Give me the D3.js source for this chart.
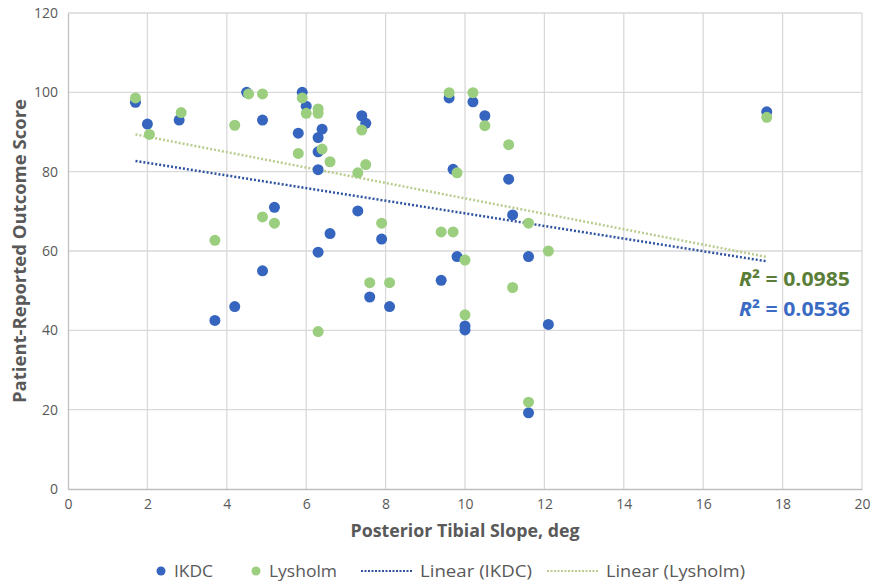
<!DOCTYPE html>
<html>
<head>
<meta charset="utf-8">
<script src="https://cdn.jsdelivr.net/npm/d3@7"></script>
<style>
  body { margin: 0; background: #fff; }
  text { font-family: "Liberation Sans Narrow", "Open Sans", sans-serif; }
</style>
</head>
<body>
<svg id="chart" width="872" height="584"></svg>
<script>
// IKDC scores vs posterior tibial slope
var ikdcX = [1.7, 2.0, 2.8, 3.7, 4.2, 4.5, 4.9, 4.9, 5.2, 5.8, 5.9, 6.0, 6.3, 6.4, 6.3, 6.3, 6.3, 6.6, 7.3, 7.4,
  7.5, 7.6, 7.9, 8.1, 9.4, 9.6, 9.7, 9.8, 10.0, 10.0, 10.2, 10.5, 11.1, 11.2, 11.6, 11.6, 12.1, 17.6];
var ikdcY = [97.5, 92, 93, 42.5, 46, 100, 93, 55, 71, 89.7, 100, 96.5, 88.6, 90.7, 85, 80.5, 59.7, 64.4, 70.1, 94.1,
  92.2, 48.4, 63, 46, 52.6, 98.6, 80.6, 58.6, 41.1, 40.1, 97.6, 94.1, 78.1, 69.1, 58.6, 19.2, 41.5, 95.1];

// Lysholm scores
var lysX = [1.7, 2.05, 2.85, 3.7, 4.2, 4.55, 4.9, 4.9, 5.2, 5.8, 5.9, 6.0, 6.3, 6.3, 6.4, 6.6, 6.3, 7.3, 7.4,
  7.5, 7.6, 7.9, 8.1, 9.4, 9.6, 9.7, 9.8, 10.0, 10.0, 10.2, 10.5, 11.1, 11.2, 11.6, 11.6, 12.1, 17.6];
var lysY = [98.6, 89.4, 94.9, 62.7, 91.7, 99.6, 99.6, 68.6, 67, 84.6, 98.6, 94.7, 95.8, 94.7, 85.7, 82.5, 39.7, 79.7, 90.5,
  81.8, 52, 67, 52, 64.8, 99.9, 64.8, 79.7, 57.7, 43.9, 99.9, 91.6, 86.8, 50.8, 67, 21.9, 60, 93.7];

// trendline end points
var trendIkdc = [[1.7, 82.7], [17.6, 57.4]];
var trendLys = [[1.7, 89.4], [17.6, 58.5]];

var xTicks = [0, 2, 4, 6, 8, 10, 12, 14, 16, 18, 20];
var yTicks = [0, 20, 40, 60, 80, 100, 120];
var r2Labels = ["0.0985", "0.0536"];

var blue = "#3565be", green = "#9bcf7f";

var margin = { top: 13, right: 10, bottom: 95, left: 68 };
var svg = d3.select("#chart");
var width = 872 - margin.left - margin.right,
  height = 584 - margin.top - margin.bottom;

var x = d3.scaleLinear().domain([0, 20]).range([margin.left, margin.left + width]);
var y = d3.scaleLinear().domain([0, 120]).range([margin.top + height, margin.top]);

// grid
svg.append("g").selectAll("line").data(xTicks.slice(1)).join("line")
  .attr("x1", d => x(d)).attr("x2", d => x(d))
  .attr("y1", y(0)).attr("y2", y(120))
  .attr("stroke", "#d9d9d9").attr("stroke-width", 1.3);
svg.append("g").selectAll("line").data(yTicks.slice(1)).join("line")
  .attr("x1", x(0)).attr("x2", x(20))
  .attr("y1", d => y(d)).attr("y2", d => y(d))
  .attr("stroke", "#d9d9d9").attr("stroke-width", 1.3);

// axes
var xAxis = svg.append("g").attr("transform", "translate(0," + y(0) + ")")
  .call(d3.axisBottom(x).tickValues(xTicks).tickSize(0).tickPadding(10));
var yAxis = svg.append("g").attr("transform", "translate(" + x(0) + ",0)")
  .call(d3.axisLeft(y).tickValues(yTicks).tickSize(0).tickPadding(10));
[xAxis, yAxis].forEach(function (a) {
  a.select(".domain").attr("stroke", "#bfbfbf").attr("stroke-width", 1.3);
  a.selectAll("text").attr("fill", "#595959").style("font-size", "14px")
    .style("font-family", "'Liberation Sans Narrow', 'Open Sans', sans-serif");
});

// trendlines
var line = d3.line().x(d => x(d[0])).y(d => y(d[1]));
svg.append("path").datum(trendLys).attr("d", line)
  .attr("fill", "none").attr("stroke", "#b9cc8e").attr("stroke-width", 2.5)
  .attr("stroke-dasharray", "2,2");
svg.append("path").datum(trendIkdc).attr("d", line)
  .attr("fill", "none").attr("stroke", "#2f52a0").attr("stroke-width", 2.5)
  .attr("stroke-dasharray", "2,2");

// points
var ikdc = ikdcX.map((d, i) => [d, ikdcY[i]]);
var lys = lysX.map((d, i) => [d, lysY[i]]);
svg.append("g").selectAll("circle").data(ikdc).join("circle")
  .attr("cx", d => x(d[0])).attr("cy", d => y(d[1])).attr("r", 5.5)
  .attr("fill", blue);
svg.append("g").selectAll("circle").data(lys).join("circle")
  .attr("cx", d => x(d[0])).attr("cy", d => y(d[1])).attr("r", 5.5)
  .attr("fill", green);

// R² labels
[[r2Labels[0], "#5a7e38", 286], [r2Labels[1], "#3a6bc4", 316]].forEach(function (l) {
  var t = svg.append("text").attr("x", 850).attr("y", l[2]).attr("text-anchor", "end")
    .attr("fill", l[1]).style("font-size", "20px").style("font-weight", "bold")
    .style("font-family", "'Open Sans', sans-serif")
    .attr("textLength", 111).attr("lengthAdjust", "spacingAndGlyphs");
  t.append("tspan").style("font-style", "italic").text("R");
  t.append("tspan").text("² = " + l[0]);
});

// axis titles
svg.append("text").attr("x", x(10)).attr("y", 537).attr("text-anchor", "middle")
  .attr("fill", "#595959").style("font-size", "17px").style("font-weight", "bold")
  .style("font-family", "'Open Sans', sans-serif")
  .attr("textLength", 229).attr("lengthAdjust", "spacingAndGlyphs")
  .text("Posterior Tibial Slope, deg");
svg.append("text").attr("transform", "translate(26," + y(60) + ") rotate(-90)")
  .attr("text-anchor", "middle")
  .attr("fill", "#595959").style("font-size", "17px").style("font-weight", "bold")
  .style("font-family", "'Open Sans', sans-serif")
  .attr("textLength", 304).attr("lengthAdjust", "spacingAndGlyphs")
  .text("Patient-Reported Outcome Score");

// legend
var legend = svg.append("g").attr("transform", "translate(0,571)");
var items = [
  { type: "dot", color: blue, label: "IKDC", x: 161, w: 39 },
  { type: "dot", color: green, label: "Lysholm", x: 256, w: 68 },
  { type: "line", color: "#2f52a0", label: "Linear (IKDC)", x: 361, w: 112 },
  { type: "line", color: "#b9cc8e", label: "Linear (Lysholm)", x: 547, w: 139 }
];
items.forEach(function (it) {
  var tx;
  if (it.type == "dot") {
    legend.append("circle").attr("cx", it.x).attr("cy", 0).attr("r", 4.5).attr("fill", it.color);
    tx = it.x + 13;
  } else {
    legend.append("line").attr("x1", it.x).attr("x2", it.x + 52).attr("y1", 0).attr("y2", 0)
      .attr("stroke", it.color).attr("stroke-width", 2).attr("stroke-dasharray", "2,1.5");
    tx = it.x + 59;
  }
  legend.append("text").attr("x", tx).attr("y", 0).attr("dy", "0.35em")
    .attr("fill", "#595959").style("font-size", "17px")
    .attr("textLength", it.w).attr("lengthAdjust", "spacingAndGlyphs")
    .text(it.label);
});
</script>
</body>
</html>
